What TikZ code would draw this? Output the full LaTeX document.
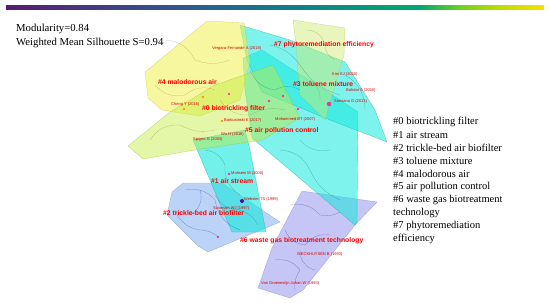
\documentclass[tikz,border=0pt]{standalone}
\usepackage{fontspec}
\setmainfont{Liberation Serif}
\newfontfamily\labfont{Liberation Sans}
\begin{document}
\begin{tikzpicture}[x=1pt,y=-1pt,
  clu/.style={line width=0.4pt,line join=round},
  lab/.style={text=red,font=\labfont\bfseries\fontsize{6.8}{7}\selectfont,anchor=west,inner sep=0pt},
  cit/.style={text=red!85!black,font=\labfont\fontsize{4}{4.5}\selectfont,anchor=west,inner sep=0pt},
  leg/.style={font=\fontsize{10.5}{13}\selectfont,anchor=west,inner sep=0pt},
  hdr/.style={font=\fontsize{10.7}{13}\selectfont,anchor=west,inner sep=0pt},
  lnk/.style={line width=0.3pt,opacity=0.35},
  dot/.style={circle,inner sep=0pt,minimum size=2.6pt}]
\useasboundingbox (0,0) rectangle (550,303);
% colour bar
\definecolor{cb1}{RGB}{88,28,110}
\definecolor{cb2}{RGB}{60,70,140}
\definecolor{cb3}{RGB}{20,120,140}
\definecolor{cb4}{RGB}{0,170,110}
\definecolor{cb5}{RGB}{110,210,30}
\definecolor{cb6}{RGB}{190,220,0}
\definecolor{cb7}{RGB}{245,225,0}
\shade[left color=cb1,right color=cb2] (6,5) rectangle (130,9);
\shade[left color=cb2,right color=cb3] (130,5) rectangle (275,9);
\shade[left color=cb3,right color=cb4] (275,5) rectangle (420,9);
\shade[left color=cb4,right color=cb5] (420,5) rectangle (460,9);
\shade[left color=cb5,right color=cb6] (460,5) rectangle (500,9);
\shade[left color=cb6,right color=cb7] (500,5) rectangle (544,9);
% colours of clusters
\definecolor{cyel}{RGB}{240,240,80}
\definecolor{clim}{RGB}{195,235,60}
\definecolor{ccya}{RGB}{20,232,220}
\definecolor{cpal}{RGB}{205,235,110}
\definecolor{cblu}{RGB}{130,175,240}
\definecolor{clav}{RGB}{150,150,238}
% cluster hulls
\filldraw[clu,fill=cblu,fill opacity=0.55,draw=cblu!80!black,draw opacity=0.5]
  (172,192) -- (183,183) -- (222,183) -- (280,222) -- (208,252) -- (198,246) -- (167,215) -- cycle;
\filldraw[clu,fill=clav,fill opacity=0.55,draw=clav!80!black,draw opacity=0.5]
  (302,191) -- (377,202) -- (355,225) -- (303,290) -- (290,298) -- (258,288) -- (272,248) -- cycle;
\filldraw[clu,fill=ccya,fill opacity=0.6,draw=ccya!70!black,draw opacity=0.5]
  (193,140) -- (245,130) -- (250,150) -- (266,232) -- (232,232) -- (212,185) -- cycle;
\filldraw[clu,fill=ccya,fill opacity=0.55,draw=ccya!70!black,draw opacity=0.5]
  (243,58) -- (262,50) -- (340,100) -- (358,112) -- (357,222) -- (355,225) -- (252,138) -- (245,90) -- cycle;
\filldraw[clu,fill=ccya,fill opacity=0.55,draw=ccya!70!black,draw opacity=0.5]
  (240,25) -- (290,40) -- (345,62) -- (375,110) -- (387,142) -- (330,120) -- (262,92) -- (247,60) -- cycle;
\filldraw[clu,fill=cpal,fill opacity=0.45,draw=cpal!80!black,draw opacity=0.5]
  (293,20) -- (345,28) -- (344,55) -- (325,120) -- (300,95) -- (296,45) -- cycle;
\filldraw[clu,fill=cyel,fill opacity=0.55,draw=cyel!80!black,draw opacity=0.5]
  (207,21) -- (244,23) -- (250,62) -- (240,100) -- (200,116) -- (162,110) -- (148,98) -- (145,72) -- cycle;
\filldraw[clu,fill=clim,fill opacity=0.45,draw=clim!80!black,draw opacity=0.5]
  (128,146) -- (170,112) -- (215,85) -- (273,65) -- (300,118) -- (262,140) -- (195,150) -- (143,159) -- cycle;
% internal links (texture)
\begin{scope}[lnk,draw=blue!50!black]
  \draw (185,190) to[bend left=30] (215,200) to[bend right=30] (240,230);
  \draw (175,210) to[bend right=30] (200,230) to[bend left=20] (218,237);
  \draw (200,190) to[bend left=40] (190,215);
  \draw (290,205) to[bend left=30] (320,215) to[bend right=20] (340,212);
  \draw (285,230) to[bend right=30] (305,245) to[bend left=30] (330,235);
  \draw (275,260) to[bend left=30] (300,270) to[bend right=20] (295,290);
  \draw (300,250) to[bend right=40] (315,270);
\end{scope}
\begin{scope}[lnk,draw=teal!60!black]
  \draw (205,150) to[bend left=30] (225,165) to[bend right=30] (240,195);
  \draw (215,195) to[bend right=30] (240,210) to[bend left=20] (258,225);
  \draw (280,150) to[bend left=30] (310,170) to[bend right=20] (340,200);
  \draw (300,140) to[bend right=30] (330,150);
  \draw (270,45) to[bend left=20] (300,65) to[bend right=20] (340,95);
  \draw (250,70) to[bend right=30] (275,90) to[bend left=30] (300,90);
  \draw (345,75) to[bend left=30] (365,110);
\end{scope}
\begin{scope}[lnk,draw=olive!70!black]
  \draw (165,40) to[bend left=30] (195,60) to[bend right=20] (230,60);
  \draw (155,85) to[bend right=30] (185,95) to[bend left=30] (215,90);
  \draw (150,140) to[bend left=30] (180,125) to[bend right=20] (215,130);
  \draw (220,100) to[bend right=30] (250,115) to[bend left=20] (285,110);
  \draw (305,30) to[bend left=40] (325,45) to[bend right=30] (335,60);
  \draw (310,80) to[bend left=30] (320,100);
\end{scope}
% citation dots
\node[dot,fill=orange!80!yellow] (d1) at (184,109) {};
\node[dot,fill=orange!80!yellow] (d2) at (203,97) {};
\node[dot,fill=orange!80!yellow] (d3) at (222,121) {};
\node[dot,fill=magenta!70] (d4) at (229,94) {};
\node[dot,fill=magenta!80] (d5) at (269,101) {};
\node[dot,fill=magenta!80] (d6) at (283,96) {};
\node[dot,fill=magenta!80] (d7) at (298,109) {};
\node[dot,fill=magenta!80,minimum size=4.5pt] (d8) at (329,104) {};
\node[dot,fill=magenta!80] (d9) at (229,174) {};
\node[dot,fill=violet!80!blue,minimum size=4pt] (d10) at (242,201) {};
\node[dot,fill=magenta!80] (d11) at (218,237) {};
% legend and header
\node[hdr] (h1) at (16,29) {Modularity=0.84};
\node[hdr] (h2) at (16,43) {Weighted Mean Silhouette S=0.94};
\node[leg] (l0) at (393,122) {\#0 biotrickling filter};
\node[leg] (l1) at (393,135) {\#1 air stream};
\node[leg] (l2) at (393,148) {\#2 trickle-bed air biofilter};
\node[leg] (l3) at (393,161) {\#3 toluene mixture};
\node[leg] (l4) at (393,174) {\#4 malodorous air};
\node[leg] (l5) at (393,187) {\#5 air pollution control};
\node[leg] (l6) at (393,200) {\#6 waste gas biotreatment};
\node[leg] (l6b) at (393,213) {technology};
\node[leg] (l7) at (393,226) {\#7 phytoremediation};
\node[leg] (l7b) at (393,239) {efficiency};
% citation labels
\node[cit] (c1) at (212,48) {Vergara-Fernande A (2018)};
\node[cit] (c2) at (332,74) {Kim KJ (2010)};
\node[cit] (c3) at (346,90) {Bohdar S (2010)};
\node[cit] (c4) at (334,101) {Sonsanu G (2013)};
\node[cit] (c5) at (171,104) {Cheng Y (2016)};
\node[cit] (c6) at (224,120) {Barbusinski K (2017)};
\node[cit] (c7) at (275,119) {Mohammed BT (2007)};
\node[cit] (c8) at (221,134) {Wu H (2018)};
\node[cit] (c9) at (193,139) {Spigno G (2003)};
\node[cit] (c10) at (231,173) {Mohseni M (2000)};
\node[cit] (c11) at (244,199) {Webster TS (1999)};
\node[cit] (c12) at (213,208) {Swanson WJ (1997)};
\node[cit] (c13) at (297,254) {WECKHUYSEN B (1993)};
\node[cit] (c14) at (261,283) {Van Groenestijn Johan W (1993)};
% cluster labels
\node[lab] (k7) at (274,45) {\#7 phytoremediation efficiency};
\node[lab] (k4) at (158,82) {\#4 malodorous air};
\node[lab] (k3) at (293,84) {\#3 toluene mixture};
\node[lab] (k0) at (202,109) {\#0 biotrickling filter};
\node[lab] (k5) at (245,131) {\#5 air pollution control};
\node[lab] (k1) at (211,181) {\#1 air stream};
\node[lab] (k2) at (163,213) {\#2 trickle-bed air biofilter};
\node[lab] (k6) at (240,241) {\#6 waste gas biotreatment technology};
\end{tikzpicture}
\end{document}
